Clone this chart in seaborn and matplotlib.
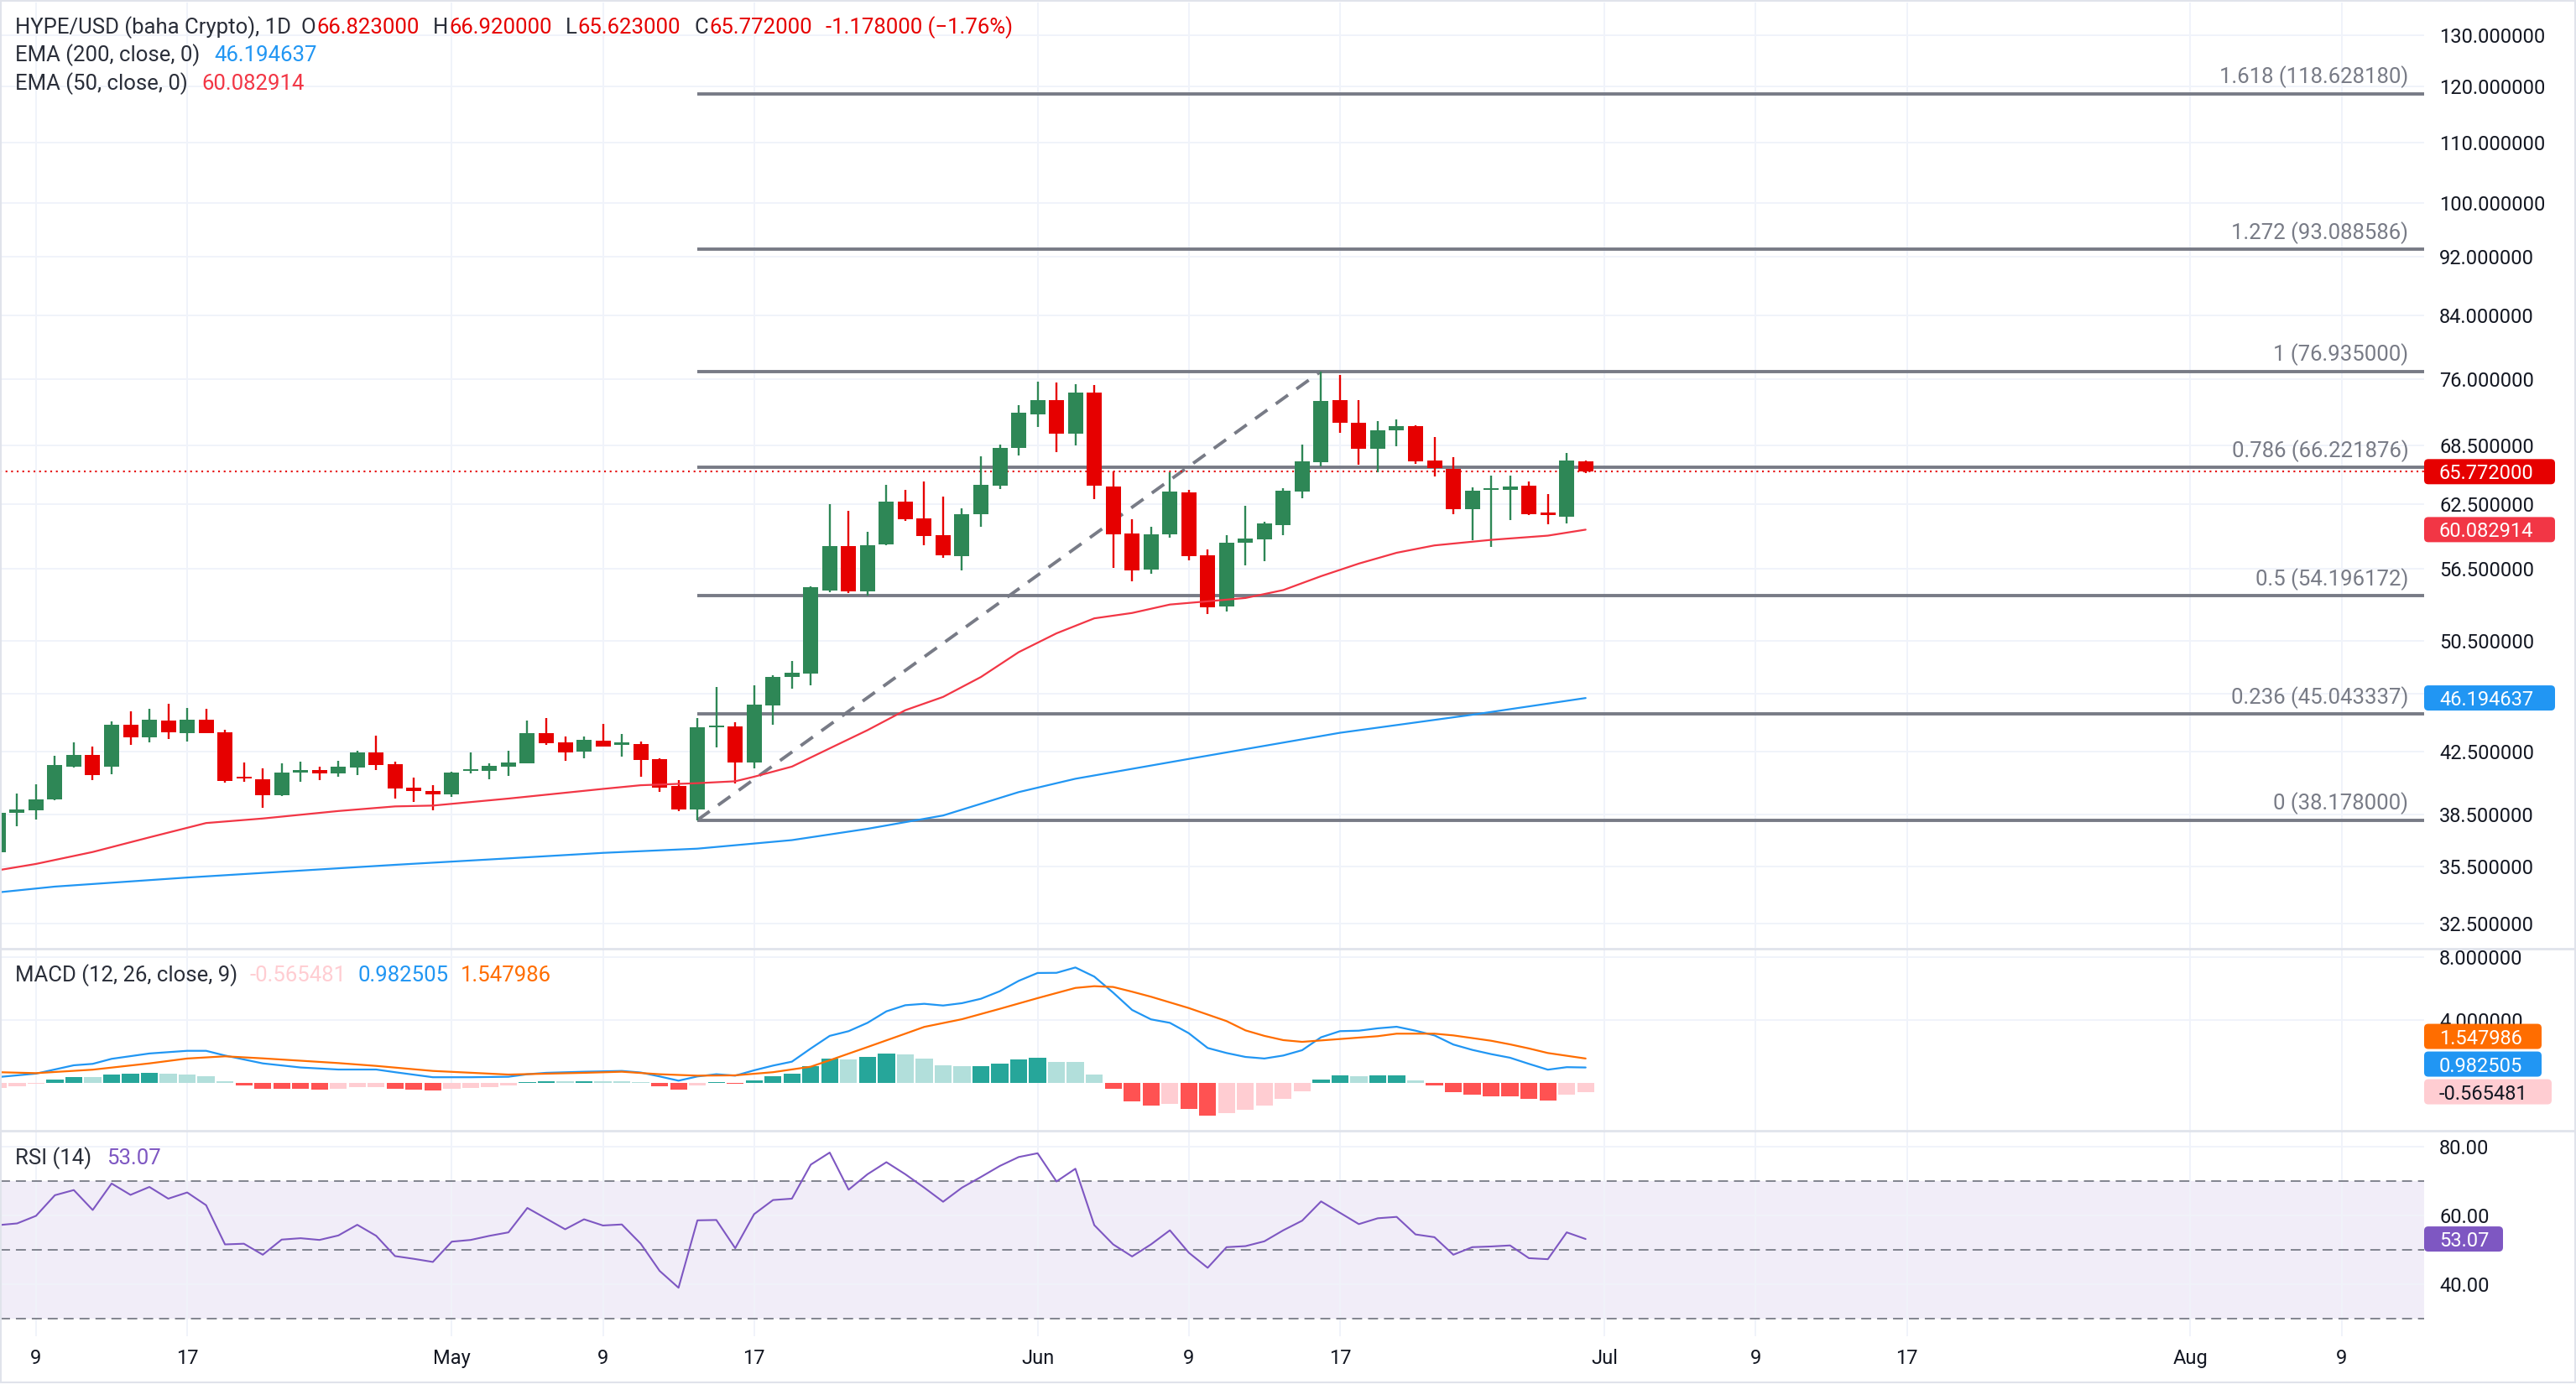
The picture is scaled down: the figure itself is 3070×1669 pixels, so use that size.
import numpy as np
import pandas as pd
import matplotlib
matplotlib.use("Agg")
import matplotlib.pyplot as plt
import matplotlib.dates as mdates
from matplotlib.patches import FancyBboxPatch, Rectangle
from matplotlib.lines import Line2D
from matplotlib.transforms import IdentityTransform
from matplotlib.ticker import FixedLocator, FixedFormatter, NullLocator
import seaborn as sns

# ---------------- data ----------------
dates = pd.date_range("2025-04-07", "2025-06-30", freq="D")

opens = [36.31, 38.60, 38.76, 39.45, 41.50, 42.26, 41.50, 44.30, 43.44, 44.58, 43.72, 44.64, 43.78, 40.86,
         40.70, 39.71, 41.13, 41.29, 41.07, 41.45, 42.43, 41.66, 40.17, 39.97,
         39.72, 41.20, 41.20, 41.50, 41.72, 43.72, 43.09, 42.49, 43.22, 42.95, 42.99, 42.00, 40.28, 38.79,
         44.12, 44.18, 41.77, 45.65, 47.74, 48.00, 54.66, 58.59, 54.55, 58.70, 62.78, 61.18, 59.53, 57.62,
         61.54, 64.36, 68.25,
         71.97, 73.55, 69.77, 74.45, 64.23, 59.70, 56.46, 59.65, 63.65, 57.70, 53.29, 58.84, 59.18, 60.51,
         63.78, 66.75, 73.58, 71.03, 68.16, 70.14, 70.66, 66.89, 66.10, 62.03, 63.92, 63.92, 64.31, 61.60,
         61.31, 66.823]
highs = [38.80, 39.81, 40.38, 42.21, 43.10, 42.82, 44.52, 45.23, 45.40, 45.76, 45.46, 45.40, 43.95, 41.77,
         41.39, 41.72, 41.83, 41.50, 41.88, 42.54, 43.55, 41.83, 40.80, 40.33,
         41.18, 42.43, 41.72, 42.54, 44.58, 44.76, 43.49, 43.49, 44.35, 43.66, 43.16, 42.05, 40.65, 44.76,
         46.97, 44.47, 47.09, 47.89, 48.92, 55.00, 62.56, 61.89, 59.84, 64.42, 63.92, 64.75, 63.25, 62.15,
         67.40, 68.63, 73.00,
         75.71, 75.59, 75.43, 75.30, 65.79, 61.04, 60.33, 65.70, 63.94, 58.23, 59.54, 62.33, 60.80, 64.06,
         68.57, 76.935, 76.53, 73.58, 71.22, 71.32, 70.75, 69.47, 67.24, 64.15, 65.33, 65.33, 64.73, 63.48,
         67.68, 66.92]
lows = [36.00, 37.80, 38.19, 39.40, 41.45, 40.65, 41.02, 42.93, 43.10, 43.33, 43.16, 43.70, 40.48, 40.54,
        38.90, 39.61, 40.54, 40.65, 40.86, 40.97, 41.29, 39.50, 39.27, 38.76,
        39.60, 41.04, 40.70, 40.91, 41.70, 42.93, 41.88, 42.04, 42.80, 42.15, 40.86, 39.87, 38.69, 38.178,
        42.76, 40.44, 41.39, 44.30, 46.85, 47.14, 54.50, 54.43, 54.17, 58.60, 60.93, 58.64, 57.47, 56.36,
        60.37, 63.98, 67.50,
        70.50, 67.85, 68.51, 63.01, 56.60, 55.43, 56.09, 59.33, 57.27, 52.66, 52.87, 56.82, 57.20, 59.54,
        63.10, 66.31, 69.87, 66.48, 65.70, 68.42, 66.57, 65.27, 61.55, 59.07, 58.46, 60.96, 61.47, 60.56,
        60.64, 65.623]
closes = [38.63, 38.79, 39.45, 41.61, 42.26, 40.97, 44.30, 43.44, 44.64, 43.78, 44.64, 43.72, 40.59, 40.75,
          39.71, 41.13, 41.29, 41.07, 41.50, 42.43, 41.61, 40.12, 39.93, 39.72,
          41.12, 41.29, 41.55, 41.77, 43.72, 43.04, 42.43, 43.27, 42.82, 43.04, 41.94, 40.17, 38.79, 44.12,
          44.24, 41.77, 45.70, 47.71, 48.08, 54.89, 58.53, 54.55, 58.67, 62.78, 61.07, 59.47, 57.71, 61.51,
          64.42, 68.28, 72.12,
          73.55, 69.77, 74.45, 64.34, 59.65, 56.38, 59.63, 63.73, 57.65, 53.22, 58.84, 59.23, 60.64, 63.81,
          66.80, 73.49, 70.97, 68.16, 70.20, 70.66, 66.83, 66.13, 62.03, 63.81, 64.06, 64.23, 61.55, 61.49,
          66.95, 65.772]

ema200_dates = ["2025-04-07", "2025-04-10", "2025-04-17", "2025-04-28", "2025-05-04", "2025-05-09",
                "2025-05-14", "2025-05-19", "2025-05-23", "2025-05-27", "2025-05-31", "2025-06-03",
                "2025-06-09", "2025-06-17", "2025-06-24", "2025-06-30"]
ema200_vals = [34.1, 34.41, 34.9, 35.6, 35.96, 36.27, 36.51, 37.0, 37.66, 38.45, 39.88, 40.72,
               42.0, 43.75, 45.0, 46.19]

ema50_dates = ["2025-04-07", "2025-04-09", "2025-04-12", "2025-04-15", "2025-04-18", "2025-04-21",
               "2025-04-25", "2025-04-28", "2025-04-30", "2025-05-04", "2025-05-09", "2025-05-11",
               "2025-05-14", "2025-05-16", "2025-05-17", "2025-05-19", "2025-05-21", "2025-05-23",
               "2025-05-25", "2025-05-27", "2025-05-29", "2025-05-31", "2025-06-02", "2025-06-04",
               "2025-06-06", "2025-06-08", "2025-06-10", "2025-06-12", "2025-06-14", "2025-06-16",
               "2025-06-18", "2025-06-20", "2025-06-22", "2025-06-25", "2025-06-28", "2025-06-30"]
ema50_vals = [35.3, 35.65, 36.32, 37.16, 38.0, 38.27, 38.72, 39.0, 39.05, 39.48, 40.08, 40.31,
              40.44, 40.56, 40.85, 41.5, 42.7, 43.93, 45.32, 46.27, 47.73, 49.62, 51.1, 52.31,
              52.75, 53.45, 53.72, 54.0, 54.67, 55.87, 56.98, 57.95, 58.62, 59.13, 59.52, 60.08]

macd_hist = [-0.34, -0.21, -0.05, 0.21, 0.37, 0.35, 0.53, 0.59, 0.64, 0.59, 0.53, 0.43, 0.11, -0.16,
             -0.37, -0.38, -0.39, -0.43, -0.37, -0.27, -0.26, -0.37, -0.43, -0.48,
             -0.37, -0.32, -0.27, -0.16, 0.05, 0.11, 0.10, 0.12, 0.11, 0.10, 0.05, -0.21, -0.43, -0.16,
             0.05, -0.05, 0.16, 0.43, 0.59, 1.07, 1.55, 1.49, 1.65, 1.87, 1.81, 1.55, 1.12, 1.07,
             1.09, 1.23, 1.49,
             1.60, 1.33, 1.32, 0.53, -0.36, -1.16, -1.42, -1.32, -1.64, -2.08, -1.90, -1.69, -1.42, -1.00,
             -0.52, 0.21, 0.48, 0.43, 0.48, 0.49, 0.16, -0.14, -0.57, -0.73, -0.84, -0.85, -1.00, -1.10,
             -0.73, -0.565]

macd_dates = ["2025-04-07", "2025-04-09", "2025-04-11", "2025-04-12", "2025-04-13", "2025-04-15",
              "2025-04-17", "2025-04-18", "2025-04-19", "2025-04-21", "2025-04-23", "2025-04-25",
              "2025-04-27", "2025-04-28", "2025-04-30", "2025-05-02", "2025-05-04", "2025-05-05",
              "2025-05-06", "2025-05-08", "2025-05-10", "2025-05-11", "2025-05-12", "2025-05-13",
              "2025-05-14", "2025-05-15", "2025-05-16", "2025-05-17", "2025-05-18", "2025-05-19",
              "2025-05-20", "2025-05-21", "2025-05-22", "2025-05-23", "2025-05-24", "2025-05-25",
              "2025-05-26", "2025-05-27", "2025-05-28", "2025-05-29", "2025-05-30", "2025-05-31",
              "2025-06-01", "2025-06-02", "2025-06-03", "2025-06-04", "2025-06-05", "2025-06-06",
              "2025-06-07", "2025-06-08", "2025-06-09", "2025-06-10", "2025-06-11", "2025-06-12",
              "2025-06-13", "2025-06-14", "2025-06-15", "2025-06-16", "2025-06-17", "2025-06-18",
              "2025-06-19", "2025-06-20", "2025-06-21", "2025-06-22", "2025-06-23", "2025-06-24",
              "2025-06-25", "2025-06-26", "2025-06-27", "2025-06-28", "2025-06-29", "2025-06-30"]
macd_vals = [0.37, 0.59, 1.12, 1.21, 1.53, 1.87, 2.04, 2.04, 1.74, 1.24, 0.98, 0.85,
             0.85, 0.68, 0.36, 0.36, 0.39, 0.55, 0.64, 0.71, 0.76, 0.66, 0.41, 0.14,
             0.41, 0.55, 0.46, 0.80, 1.10, 1.35, 2.19, 2.99, 3.29, 3.82, 4.55, 4.94,
             5.03, 4.92, 5.07, 5.35, 5.83, 6.49, 6.99, 7.00, 7.34, 6.76, 5.74, 4.64,
             4.04, 3.82, 3.16, 2.22, 1.90, 1.65, 1.55, 1.74, 2.08, 2.90, 3.29, 3.32,
             3.47, 3.57, 3.32, 3.02, 2.44, 2.10, 1.83, 1.60, 1.21, 0.84, 1.00, 0.98]

signal_dates = ["2025-04-07", "2025-04-09", "2025-04-12", "2025-04-15", "2025-04-17", "2025-04-19",
                "2025-04-21", "2025-04-25", "2025-04-27", "2025-04-30", "2025-05-04", "2025-05-08",
                "2025-05-10", "2025-05-12", "2025-05-14", "2025-05-16", "2025-05-18", "2025-05-20",
                "2025-05-21", "2025-05-23", "2025-05-25", "2025-05-26", "2025-05-28", "2025-05-30",
                "2025-06-01", "2025-06-03", "2025-06-04", "2025-06-05", "2025-06-06", "2025-06-07",
                "2025-06-09", "2025-06-11", "2025-06-12", "2025-06-13", "2025-06-14", "2025-06-15",
                "2025-06-17", "2025-06-19", "2025-06-20", "2025-06-22", "2025-06-23", "2025-06-25",
                "2025-06-26", "2025-06-27", "2025-06-28", "2025-06-30"]
signal_vals = [0.68, 0.62, 0.84, 1.24, 1.55, 1.69, 1.56, 1.26, 1.08, 0.76, 0.53, 0.64,
               0.71, 0.55, 0.46, 0.48, 0.68, 1.03, 1.44, 2.28, 3.13, 3.56, 4.05, 4.71,
               5.39, 6.04, 6.15, 6.10, 5.80, 5.48, 4.76, 3.93, 3.34, 2.99, 2.72, 2.61,
               2.79, 2.97, 3.13, 3.13, 3.02, 2.68, 2.45, 2.19, 1.90, 1.55]

rsi_vals = [57.1, 57.6, 59.8, 65.8, 67.3, 61.5, 69.2, 65.9, 68.2, 64.8, 66.6, 62.9, 51.5, 51.7,
            48.5, 52.9, 53.3, 52.8, 54.1, 57.2, 54.0, 48.1, 47.3, 46.4,
            52.3, 52.8, 54.0, 55.0, 62.1, 59.0, 55.9, 58.8, 57.0, 57.3, 51.7, 43.8, 38.9, 58.5,
            58.6, 50.4, 60.3, 64.4, 64.8, 74.7, 78.2, 67.4, 71.9, 75.4, 71.9, 68.0, 63.9, 68.0,
            71.1, 74.3, 76.9,
            78.0, 69.8, 73.5, 57.1, 51.5, 48.0, 51.5, 55.6, 49.1, 44.7, 50.7, 51.0, 52.4, 55.6,
            58.4, 64.0, 60.7, 57.4, 59.1, 59.5, 54.4, 53.6, 48.5, 50.7, 50.9, 51.2, 47.5, 47.2,
            55.0, 53.07]

fib_ratios = ["0", "0.236", "0.5", "0.786", "1", "1.272", "1.618"]
fib_prices = [38.178, 45.043337, 54.196172, 66.221876, 76.935, 93.088586, 118.628180]
swing_dates = ["2025-05-14", "2025-06-16"]
swing_prices = [38.178, 76.935]

price_ticks = [32.5, 35.5, 38.5, 42.5, 46.5, 50.5, 56.5, 62.5, 68.5, 76, 84, 92, 100, 110, 120, 130]
macd_ticks = [4, 8]
rsi_ticks = [40, 60, 80]
rsi_bands = [30, 50, 70]
date_ticks = ["2025-04-09", "2025-04-17", "2025-05-01", "2025-05-09", "2025-05-17", "2025-06-01",
              "2025-06-09", "2025-06-17", "2025-07-01", "2025-07-09", "2025-07-17", "2025-08-01",
              "2025-08-09"]
date_labels = ["9", "17", "May", "9", "17", "Jun", "9", "17", "Jul", "9", "17", "Aug", "9"]

last_o, last_h, last_l, last_c = 66.823, 66.92, 65.623, 65.772
last_chg, last_pct = -1.178, -1.76
ema200_last, ema50_last = 46.194637, 60.082914
macd_last, signal_last, hist_last = 0.982505, 1.547986, -0.565481
rsi_last = 53.07

# ---------------- styling ----------------
W, H = 3070, 1669
GREEN, RED = "#2e8756", "#e60000"
DARK, GREY, GRID = "#131722", "#787b86", "#f0f3fa"
BLUE, EMARED, ORANGE, PURPLE = "#2196f3", "#f23645", "#ff6d00", "#7e57c2"
FS = 17

sns.set_theme(style="white")
plt.rcParams["font.family"] = ["Roboto", "DejaVu Sans"]

fig = plt.figure(figsize=(W / 100, H / 100), dpi=100, facecolor="white")
RIGHT = 2889


def px_axes(top, bottom):
    return fig.add_axes([0, 1 - bottom / H, RIGHT / W, (bottom - top) / H])


ax_p = px_axes(3, 1130)
ax_m = px_axes(1132, 1347)
ax_r = px_axes(1349, 1593)

x = mdates.date2num(dates)
x0 = mdates.date2num(pd.Timestamp("2025-04-09"))
xlim = (x0 - 1.905, x0 + 126.37)
tick_x = mdates.date2num(pd.to_datetime(date_ticks))

for ax in (ax_p, ax_m, ax_r):
    ax.set_xlim(*xlim)
    for s in ax.spines.values():
        s.set_visible(False)
    ax.set_axisbelow(True)
    ax.xaxis.set_major_locator(FixedLocator(tick_x))
    ax.grid(True, axis="both", color=GRID, lw=1.4)
    ax.yaxis.tick_right()
    ax.tick_params(axis="y", length=0, pad=13, labelsize=FS, labelcolor=DARK)
    ax.tick_params(axis="x", length=0, labelbottom=False)

# ---- price panel ----
o, h, l, c = map(np.array, (opens, highs, lows, closes))
up = c >= o
cols = np.where(up, GREEN, RED)
ax_p.vlines(x, l, h, colors=cols, lw=1.7, zorder=3)
body_lo = np.minimum(o, c)
body_hi = np.maximum(np.maximum(o, c), body_lo * 1.003)
ax_p.bar(x, body_hi - body_lo, bottom=body_lo, width=0.8, color=cols, zorder=3, linewidth=0)

sns.lineplot(x=mdates.date2num(pd.to_datetime(ema50_dates)), y=ema50_vals, ax=ax_p,
             color=EMARED, lw=1.6, legend=False, zorder=4)
sns.lineplot(x=mdates.date2num(pd.to_datetime(ema200_dates)), y=ema200_vals, ax=ax_p,
             color=BLUE, lw=1.6, legend=False, zorder=4)

sw_x = mdates.date2num(pd.to_datetime(swing_dates))
ax_p.hlines(fib_prices, sw_x[0], xlim[1], colors=GREY, lw=2.8, zorder=2)
for r, p in zip(fib_ratios, fib_prices):
    ax_p.annotate(f"{r} ({p:.6f})", (x0 + 125.54, p), xytext=(0, 20), textcoords="offset pixels",
                  ha="right", va="center", color=GREY, fontsize=18.5)
ax_p.plot(sw_x, swing_prices, color=GREY, lw=2.8, linestyle=(0, (4.6, 3.2)), zorder=2)
ax_p.axhline(last_c, color=RED, lw=1.5, linestyle=(0, (1, 2.2)), zorder=2)

ax_p.set_yscale("log")
ax_p.set_ylim(31.27, 136.83)
ax_p.yaxis.set_major_locator(FixedLocator(price_ticks))
ax_p.yaxis.set_major_formatter(FixedFormatter([f"{t:.6f}" for t in price_ticks]))
ax_p.yaxis.set_minor_locator(NullLocator())
ax_p.set_xlabel("")
ax_p.set_ylabel("")

# ---- MACD panel ----
hist = np.array(macd_hist)
prev = np.r_[hist[0], hist[:-1]]
hcols = np.where(hist >= 0, np.where(hist > prev, "#26a69a", "#b2dfdb"),
                 np.where(hist < prev, "#ff5252", "#ffcdd2"))
ax_m.bar(x, hist, width=0.9, color=hcols, linewidth=0, zorder=2)
sns.lineplot(x=mdates.date2num(pd.to_datetime(macd_dates)), y=macd_vals, ax=ax_m,
             color=BLUE, lw=1.6, legend=False, zorder=3)
sns.lineplot(x=mdates.date2num(pd.to_datetime(signal_dates)), y=signal_vals, ax=ax_m,
             color=ORANGE, lw=1.6, legend=False, zorder=3)
ax_m.set_ylim(-2.99, 8.48)
ax_m.yaxis.set_major_locator(FixedLocator(macd_ticks))
ax_m.yaxis.set_major_formatter(FixedFormatter([f"{t:.6f}" for t in macd_ticks]))
ax_m.set_xlabel("")
ax_m.set_ylabel("")

# ---- RSI panel ----
ax_r.axhspan(rsi_bands[0], rsi_bands[2], color=PURPLE, alpha=0.1, lw=0, zorder=0)
for b in rsi_bands:
    ax_r.axhline(b, color=GREY, lw=1.3, linestyle=(0, (6.6, 3.9)), zorder=1)
sns.lineplot(x=x, y=rsi_vals, ax=ax_r, color=PURPLE, lw=1.5, legend=False, zorder=3)
ax_r.set_ylim(24.8, 84.3)
ax_r.yaxis.set_major_locator(FixedLocator(rsi_ticks))
ax_r.yaxis.set_major_formatter(FixedFormatter([f"{t:.2f}" for t in rsi_ticks]))
ax_r.xaxis.set_major_formatter(FixedFormatter(date_labels))
ax_r.tick_params(axis="x", labelbottom=True, pad=11, labelsize=FS, labelcolor=DARK)
ax_r.set_xlabel("")
ax_r.set_ylabel("")

# ---- frame and separators ----
ID = IdentityTransform()
for yy in (1131, 1348):
    fig.add_artist(Line2D([0, W], [H - yy, H - yy], color="#e0e3eb", lw=2, transform=ID))
fig.add_artist(Rectangle((1, H - 1648), W - 2, 1647, fill=False, ec="#e0e3eb", lw=1.5, transform=ID))


# ---- value badges on the right scale ----
def ydisp(ax, v):
    return ax.transData.transform((xlim[0], v))[1]


def badge(yd, text, fc, tc, right):
    bh = 30
    fig.add_artist(FancyBboxPatch((RIGHT, yd - bh / 2), right - RIGHT, bh,
                                  boxstyle="round,pad=0,rounding_size=5", fc=fc, ec="none",
                                  transform=ID, zorder=5))
    fig.text(2907, yd, text, color=tc, fontsize=FS, va="center_baseline", ha="left",
             transform=ID, zorder=6)


badge(ydisp(ax_p, last_c), f"{last_c:.6f}", RED, "white", 3045)
badge(ydisp(ax_p, ema50_last), f"{ema50_last:.6f}", EMARED, "white", 3045)
badge(ydisp(ax_p, ema200_last), f"{ema200_last:.6f}", BLUE, "white", 3045)

y_h = ydisp(ax_m, hist_last)
y_b = max(ydisp(ax_m, macd_last), y_h + 33)
y_o = max(ydisp(ax_m, signal_last), y_b + 33)
badge(y_o, f"{signal_last:.6f}", ORANGE, "white", 3029)
badge(y_b, f"{macd_last:.6f}", BLUE, "white", 3029)
badge(y_h, f"{hist_last:.6f}", "#ffcdd2", DARK, 3041)
badge(ydisp(ax_r, rsi_last), f"{rsi_last:.2f}", PURPLE, "white", 2983)

# ---- legends (top-left of each pane) ----
renderer = fig.canvas.get_renderer()


def legend_row(y_top, parts):
    xx = 18
    for s, col, gap in parts:
        t = fig.text(xx, H - y_top, s, color=col, fontsize=18.5, va="center", ha="left", transform=ID)
        xx += t.get_window_extent(renderer).width + gap


TXT = "#2a2e39"
legend_row(33, [("HYPE/USD (baha Crypto), 1D", TXT, 12),
                ("O", TXT, 1), (f"{last_o:.6f}", RED, 16),
                ("H", TXT, 1), (f"{last_h:.6f}", RED, 16),
                ("L", TXT, 1), (f"{last_l:.6f}", RED, 16),
                ("C", TXT, 1), (f"{last_c:.6f}", RED, 16),
                (f"{last_chg:.6f} (\u2212{abs(last_pct):.2f}%)", RED, 0)])
legend_row(66, [("EMA (200, close, 0)", TXT, 17), (f"{ema200_last:.6f}", BLUE, 0)])
legend_row(100, [("EMA (50, close, 0)", TXT, 17), (f"{ema50_last:.6f}", EMARED, 0)])
legend_row(1163, [("MACD (12, 26, close, 9)", TXT, 14), (f"{hist_last:.6f}", "#ffcdd2", 14),
                  (f"{macd_last:.6f}", BLUE, 14), (f"{signal_last:.6f}", ORANGE, 0)])
legend_row(1381, [("RSI (14)", TXT, 18), (f"{rsi_last:.2f}", PURPLE, 0)])

fig.savefig("out.png", dpi=100, facecolor="white")
